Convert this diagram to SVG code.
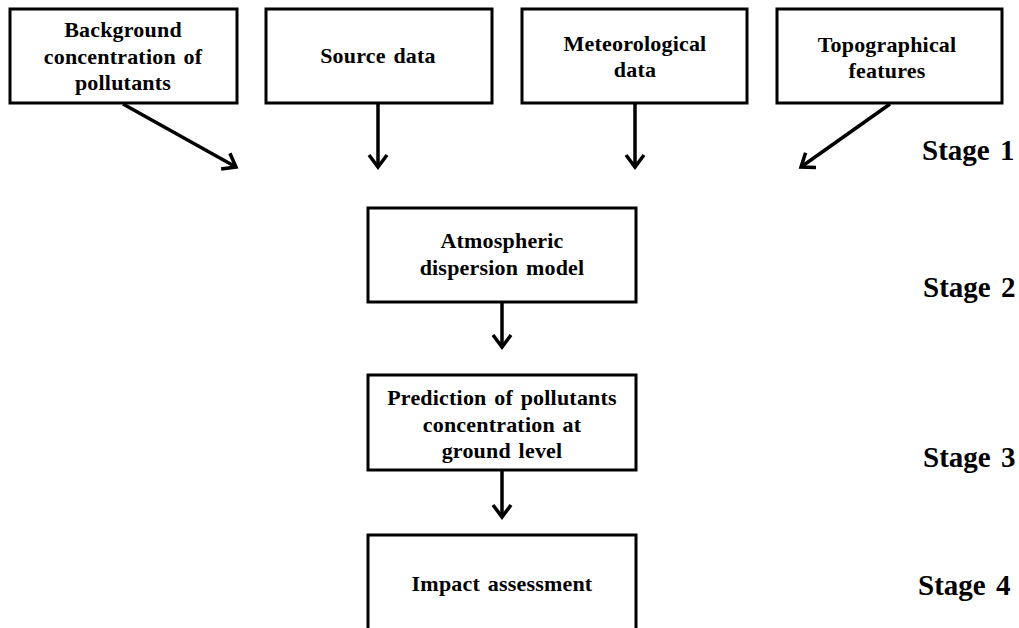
<svg xmlns="http://www.w3.org/2000/svg" width="1019" height="628" viewBox="0 0 1019 628">
<style>
.box{fill:#fff;stroke:#000;stroke-width:3}
.t{font-family:"Liberation Serif","Times New Roman",serif;font-weight:bold;font-size:22px;fill:#000;text-anchor:middle;letter-spacing:0.2px;word-spacing:2px}
.st{font-family:"Liberation Serif","Times New Roman",serif;font-weight:bold;font-size:29px;fill:#000;word-spacing:3px}
.c{stroke:#000;stroke-width:3.5;fill:none}
</style>
<defs>
<marker id="ah" markerUnits="userSpaceOnUse" viewBox="-16 -12 20 24" refX="0" refY="0" markerWidth="20" markerHeight="24" orient="auto">
<path d="M-12,-9 L0,0 L-12,9" fill="none" stroke="#000" stroke-width="3.5"/>
</marker>
</defs>
<rect width="1019" height="628" fill="#fff"/>
<g id="n1"><rect class="box" x="10" y="9" width="227" height="94"/>
<text class="t" x="123" y="37">Background</text><text class="t" x="123" y="64">concentration of</text><text class="t" x="123" y="90">pollutants</text></g>
<g id="n2"><rect class="box" x="266" y="9" width="226" height="94"/>
<text class="t" x="378" y="63">Source data</text></g>
<g id="n3"><rect class="box" x="522" y="9" width="225" height="94"/>
<text class="t" x="635" y="51">Meteorological</text><text class="t" x="635" y="77">data</text></g>
<g id="n4"><rect class="box" x="777" y="9" width="225" height="94"/>
<text class="t" x="887" y="52">Topographical</text><text class="t" x="887" y="78">features</text></g>
<g id="n5"><rect class="box" x="368" y="208" width="268" height="94"/>
<text class="t" x="502" y="248">Atmospheric</text><text class="t" x="502" y="275">dispersion model</text></g>
<g id="n6"><rect class="box" x="368" y="375" width="268" height="95"/>
<text class="t" x="502" y="405">Prediction of pollutants</text><text class="t" x="502" y="432">concentration at</text><text class="t" x="502" y="458">ground level</text></g>
<g id="n7"><rect class="box" x="368" y="535" width="268" height="100"/>
<text class="t" x="502" y="591">Impact assessment</text></g>
<g id="connectors">
<line class="c" x1="123" y1="104" x2="236" y2="167" marker-end="url(#ah)"/>
<line class="c" x1="378" y1="104" x2="378" y2="167" marker-end="url(#ah)"/>
<line class="c" x1="635" y1="104" x2="635" y2="167" marker-end="url(#ah)"/>
<line class="c" x1="890" y1="104" x2="801" y2="167" marker-end="url(#ah)"/>
<line class="c" x1="502" y1="303" x2="502" y2="347" marker-end="url(#ah)"/>
<line class="c" x1="502" y1="471" x2="502" y2="517" marker-end="url(#ah)"/>
</g>
<g id="stages">
<text class="st" x="922" y="160">Stage 1</text>
<text class="st" x="923" y="297">Stage 2</text>
<text class="st" x="923" y="467">Stage 3</text>
<text class="st" x="918" y="595">Stage 4</text>
</g>
</svg>
